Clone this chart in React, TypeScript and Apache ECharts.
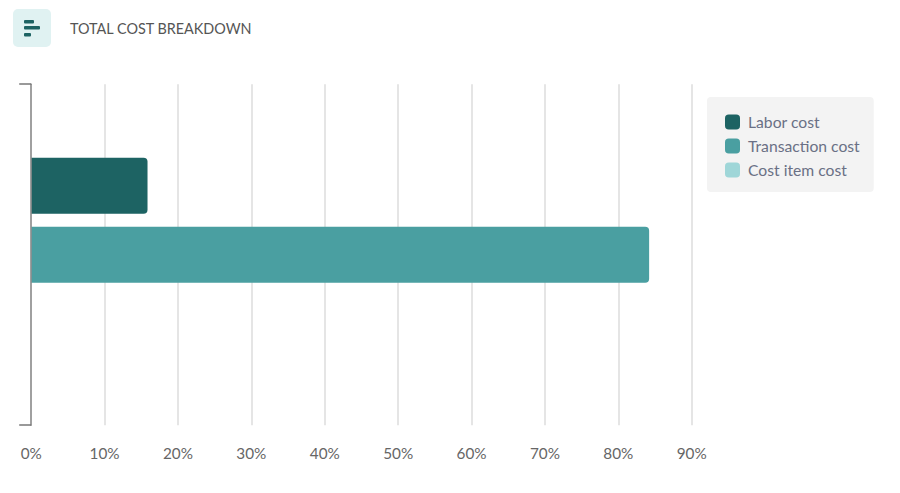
import React, { useEffect, useRef } from "react";
import * as echarts from "echarts";

const chartTitle = "TOTAL COST BREAKDOWN";
const categories = ["Total cost"];
const laborCost = [15.85];
const transactionCost = [84.2];
const costItemCost = [0];
const xTicks = [0, 10, 20, 30, 40, 50, 60, 70, 80, 90];
const font = "Lato";

export default function App() {
  const ref = useRef<HTMLDivElement>(null);
  useEffect(() => {
    const chart = echarts.init(ref.current!, null, { renderer: "svg" });
    const bar = (name: string, data: number[], color: string) => ({
      name,
      type: "bar",
      data,
      barWidth: 56,
      barGap: "23%",
      itemStyle: { color, borderRadius: [0, 4, 4, 0] },
    });
    chart.setOption({
      animation: false,
      backgroundColor: "#fff",
      textStyle: { fontFamily: font },
      title: {
        text: chartTitle,
        left: 70,
        top: 21.5,
        padding: 0,
        textStyle: { fontFamily: font, fontSize: 14.4, fontWeight: 400, color: "#555" },
      },
      grid: { left: 31.2, top: 84.2, width: 660.5, height: 341, containLabel: false },
      xAxis: {
        type: "value",
        min: 0,
        max: 90,
        interval: 10,
        axisLine: { show: false },
        axisTick: { show: false },
        splitLine: { show: true, lineStyle: { color: "#dcdcdc", width: 1.5 } },
        axisLabel: {
          margin: 20,
          fontSize: 15.3,
          color: "#666",
          fontFamily: font,
          formatter: (v: number) => (xTicks.includes(v) ? `${v}%` : ""),
        },
      },
      yAxis: {
        type: "category",
        data: categories,
        inverse: true,
        z: 5,
        axisLine: { show: true, lineStyle: { color: "#888", width: 1.5 } },
        axisTick: { show: true, length: 12, alignWithLabel: false, lineStyle: { color: "#777", width: 1.5 } },
        axisLabel: { show: false },
      },
      legend: {
        orient: "vertical",
        left: 707,
        top: 97,
        padding: [17, 14, 14, 18],
        backgroundColor: "#f3f3f3",
        borderRadius: 4,
        icon: "roundRect",
        itemWidth: 15,
        itemHeight: 15,
        itemGap: 8,
        selectedMode: false,
        textStyle: { fontFamily: font, fontSize: 15.7, color: "#6a7085", padding: [0, 0, 0, 3] },
        data: ["Labor cost", "Transaction cost", "Cost item cost"],
      },
      graphic: [
        { type: "rect", shape: { x: 13, y: 9, width: 38, height: 38, r: 5 }, style: { fill: "#e0f2f2" } },
        { type: "rect", shape: { x: 24, y: 20, width: 10, height: 3.5, r: 1 }, style: { fill: "#1d6363" } },
        { type: "rect", shape: { x: 24, y: 26, width: 16, height: 3.5, r: 1 }, style: { fill: "#1d6363" } },
        { type: "rect", shape: { x: 24, y: 33, width: 7, height: 3.5, r: 1 }, style: { fill: "#1d6363" } },
      ],
      series: [
        bar("Labor cost", laborCost, "#1d6363"),
        bar("Transaction cost", transactionCost, "#4a9fa1"),
        bar("Cost item cost", costItemCost, "#9fd6d8"),
      ],
    });
    return () => chart.dispose();
  }, []);
  return <div ref={ref} style={{ position: "absolute", left: 0, top: 0, width: 900, height: 493 }} />;
}
